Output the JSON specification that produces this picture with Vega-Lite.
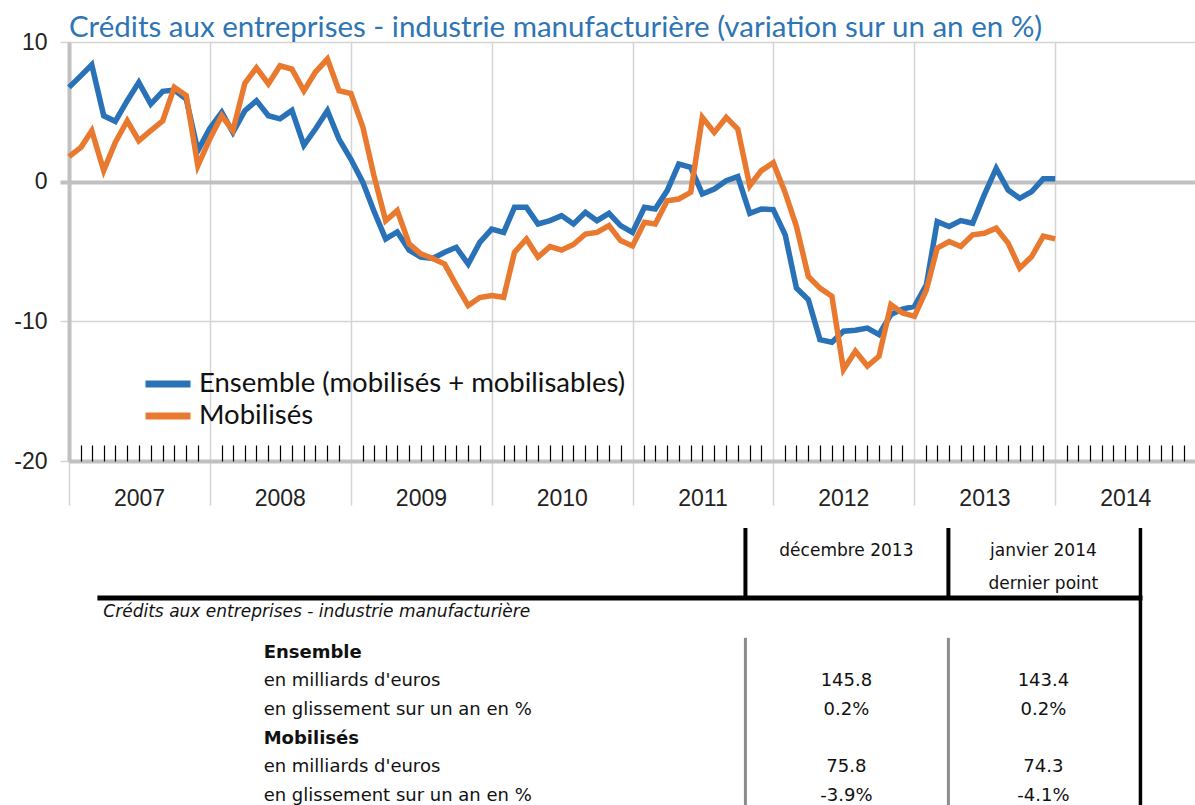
{
  "$schema": "https://vega.github.io/schema/vega-lite/v6.json",
  "autosize": {"type": "pad"},
  "padding": {"left": 13, "top": 12, "right": 0, "bottom": 0},
  "background": "white",
  "config": {"view": {"stroke": null}},
  "spacing": 16,
  "vconcat": [
    {
      "width": 1127,
      "height": 419,
      "title": {
        "text": "Crédits aux entreprises - industrie manufacturière (variation sur un an en %)",
        "anchor": "start",
        "frame": "group",
        "font": "Lato",
        "fontSize": 29.5,
        "fontWeight": "normal",
        "color": "#2e75b6",
        "offset": -12
      },
      "data": {
        "values": [
          {"date": "2007-01-01", "ensemble": 6.75, "mobilises": 1.79},
          {"date": "2007-02-01", "ensemble": 7.59, "mobilises": 2.46},
          {"date": "2007-03-01", "ensemble": 8.37, "mobilises": 3.65},
          {"date": "2007-04-01", "ensemble": 4.72, "mobilises": 0.79},
          {"date": "2007-05-01", "ensemble": 4.32, "mobilises": 2.81},
          {"date": "2007-06-01", "ensemble": 5.8, "mobilises": 4.36},
          {"date": "2007-07-01", "ensemble": 7.11, "mobilises": 2.93},
          {"date": "2007-08-01", "ensemble": 5.56, "mobilises": 3.65},
          {"date": "2007-09-01", "ensemble": 6.47, "mobilises": 4.36},
          {"date": "2007-10-01", "ensemble": 6.56, "mobilises": 6.75},
          {"date": "2007-11-01", "ensemble": 5.92, "mobilises": 6.16},
          {"date": "2007-12-01", "ensemble": 2.22, "mobilises": 1.14},
          {"date": "2008-01-01", "ensemble": 3.8, "mobilises": 3.06},
          {"date": "2008-02-01", "ensemble": 4.96, "mobilises": 4.72},
          {"date": "2008-03-01", "ensemble": 3.53, "mobilises": 3.65},
          {"date": "2008-04-01", "ensemble": 5.08, "mobilises": 7.05},
          {"date": "2008-05-01", "ensemble": 5.8, "mobilises": 8.15},
          {"date": "2008-06-01", "ensemble": 4.72, "mobilises": 7.0},
          {"date": "2008-07-01", "ensemble": 4.5, "mobilises": 8.3},
          {"date": "2008-08-01", "ensemble": 5.1, "mobilises": 8.06},
          {"date": "2008-09-01", "ensemble": 2.6, "mobilises": 6.5},
          {"date": "2008-10-01", "ensemble": 3.77, "mobilises": 7.85},
          {"date": "2008-11-01", "ensemble": 5.08, "mobilises": 8.78},
          {"date": "2008-12-01", "ensemble": 3.05, "mobilises": 6.51},
          {"date": "2009-01-01", "ensemble": 1.6, "mobilises": 6.3},
          {"date": "2009-02-01", "ensemble": -0.05, "mobilises": 3.9},
          {"date": "2009-03-01", "ensemble": -2.07, "mobilises": 0.5},
          {"date": "2009-04-01", "ensemble": -4.1, "mobilises": -2.8},
          {"date": "2009-05-01", "ensemble": -3.6, "mobilises": -2.07},
          {"date": "2009-06-01", "ensemble": -4.9, "mobilises": -4.46},
          {"date": "2009-07-01", "ensemble": -5.4, "mobilises": -5.17},
          {"date": "2009-08-01", "ensemble": -5.5, "mobilises": -5.5},
          {"date": "2009-09-01", "ensemble": -5.06, "mobilises": -5.9},
          {"date": "2009-10-01", "ensemble": -4.7, "mobilises": -7.4},
          {"date": "2009-11-01", "ensemble": -5.9, "mobilises": -8.87},
          {"date": "2009-12-01", "ensemble": -4.35, "mobilises": -8.3},
          {"date": "2010-01-01", "ensemble": -3.4, "mobilises": -8.16},
          {"date": "2010-02-01", "ensemble": -3.63, "mobilises": -8.28},
          {"date": "2010-03-01", "ensemble": -1.84, "mobilises": -5.06},
          {"date": "2010-04-01", "ensemble": -1.84, "mobilises": -4.1},
          {"date": "2010-05-01", "ensemble": -3.03, "mobilises": -5.4},
          {"date": "2010-06-01", "ensemble": -2.79, "mobilises": -4.65},
          {"date": "2010-07-01", "ensemble": -2.43, "mobilises": -4.89},
          {"date": "2010-08-01", "ensemble": -3.03, "mobilises": -4.5},
          {"date": "2010-09-01", "ensemble": -2.2, "mobilises": -3.75},
          {"date": "2010-10-01", "ensemble": -2.79, "mobilises": -3.63},
          {"date": "2010-11-01", "ensemble": -2.27, "mobilises": -3.15},
          {"date": "2010-12-01", "ensemble": -3.15, "mobilises": -4.22},
          {"date": "2011-01-01", "ensemble": -3.63, "mobilises": -4.6},
          {"date": "2011-02-01", "ensemble": -1.84, "mobilises": -2.91},
          {"date": "2011-03-01", "ensemble": -1.96, "mobilises": -3.03},
          {"date": "2011-04-01", "ensemble": -0.64, "mobilises": -1.36},
          {"date": "2011-05-01", "ensemble": 1.26, "mobilises": -1.24},
          {"date": "2011-06-01", "ensemble": 1.03, "mobilises": -0.76},
          {"date": "2011-07-01", "ensemble": -0.88, "mobilises": 4.6},
          {"date": "2011-08-01", "ensemble": -0.53, "mobilises": 3.53},
          {"date": "2011-09-01", "ensemble": 0.07, "mobilises": 4.6},
          {"date": "2011-10-01", "ensemble": 0.36, "mobilises": 3.77},
          {"date": "2011-11-01", "ensemble": -2.27, "mobilises": -0.29},
          {"date": "2011-12-01", "ensemble": -1.96, "mobilises": 0.79},
          {"date": "2012-01-01", "ensemble": -2.0, "mobilises": 1.36},
          {"date": "2012-02-01", "ensemble": -3.81, "mobilises": -0.8},
          {"date": "2012-03-01", "ensemble": -7.62, "mobilises": -3.2},
          {"date": "2012-04-01", "ensemble": -8.45, "mobilises": -6.79},
          {"date": "2012-05-01", "ensemble": -11.31, "mobilises": -7.62},
          {"date": "2012-06-01", "ensemble": -11.5, "mobilises": -8.21},
          {"date": "2012-07-01", "ensemble": -10.71, "mobilises": -13.45},
          {"date": "2012-08-01", "ensemble": -10.64, "mobilises": -12.14},
          {"date": "2012-09-01", "ensemble": -10.48, "mobilises": -13.2},
          {"date": "2012-10-01", "ensemble": -10.95, "mobilises": -12.5},
          {"date": "2012-11-01", "ensemble": -9.52, "mobilises": -8.81},
          {"date": "2012-12-01", "ensemble": -9.12, "mobilises": -9.4},
          {"date": "2013-01-01", "ensemble": -8.93, "mobilises": -9.64},
          {"date": "2013-02-01", "ensemble": -7.38, "mobilises": -7.74},
          {"date": "2013-03-01", "ensemble": -2.86, "mobilises": -4.76},
          {"date": "2013-04-01", "ensemble": -3.21, "mobilises": -4.29},
          {"date": "2013-05-01", "ensemble": -2.79, "mobilises": -4.64},
          {"date": "2013-06-01", "ensemble": -2.98, "mobilises": -3.81},
          {"date": "2013-07-01", "ensemble": -0.95, "mobilises": -3.69},
          {"date": "2013-08-01", "ensemble": 0.95, "mobilises": -3.33},
          {"date": "2013-09-01", "ensemble": -0.6, "mobilises": -4.4},
          {"date": "2013-10-01", "ensemble": -1.19, "mobilises": -6.19},
          {"date": "2013-11-01", "ensemble": -0.71, "mobilises": -5.36},
          {"date": "2013-12-01", "ensemble": 0.2, "mobilises": -3.9},
          {"date": "2014-01-01", "ensemble": 0.2, "mobilises": -4.1}
        ]
      },
      "transform": [{"fold": ["ensemble", "mobilises"], "as": ["serie", "valeur"]}],
      "layer": [
        {
          "mark": {"type": "line", "strokeWidth": 5.5},
          "encoding": {
            "x": {
              "field": "date",
              "type": "temporal",
              "scale": {
                "type": "utc",
                "domain": [
                  {"year": 2007, "month": 1, "date": 1, "utc": true},
                  {"year": 2015, "month": 1, "date": 1, "utc": true}
                ]
              },
              "axis": {
                "orient": "bottom",
                "title": null,
                "values": [
                  {"year": 2007, "month": 1, "date": 1, "utc": true},
                  {"year": 2008, "month": 1, "date": 1, "utc": true},
                  {"year": 2009, "month": 1, "date": 1, "utc": true},
                  {"year": 2010, "month": 1, "date": 1, "utc": true},
                  {"year": 2011, "month": 1, "date": 1, "utc": true},
                  {"year": 2012, "month": 1, "date": 1, "utc": true},
                  {"year": 2013, "month": 1, "date": 1, "utc": true},
                  {"year": 2014, "month": 1, "date": 1, "utc": true}
                ],
                "labelExpr": "utcFormat(datum.value, '%Y')",
                "grid": true,
                "gridColor": "#d4d4d4",
                "gridWidth": 1.5,
                "tickSize": 44,
                "tickColor": "#d4d4d4",
                "tickWidth": 1.5,
                "domain": true,
                "domainColor": "#c0c0c0",
                "domainWidth": 4,
                "labelOffset": 70,
                "labelPadding": -18,
                "labelFont": "Liberation Sans",
                "labelFontSize": 23,
                "labelColor": "#222222",
                "labelFlush": false,
                "labelOverlap": false
              }
            },
            "y": {
              "field": "valeur",
              "type": "quantitative",
              "scale": {"domain": [-20, 10], "nice": false, "zero": false},
              "axis": {
                "title": null,
                "values": [-20, -10, 0, 10],
                "labelExpr": "toString(datum.value)",
                "grid": true,
                "gridColor": {"condition": {"test": "datum.value === 0", "value": "#c0c0c0"}, "value": "#d4d4d4"},
                "gridWidth": {"condition": {"test": "datum.value === 0", "value": 4}, "value": 1.5},
                "domain": true,
                "domainColor": "#c0c0c0",
                "domainWidth": 4,
                "tickSize": 9,
                "tickColor": {"condition": {"test": "datum.value === 0", "value": "#c0c0c0"}, "value": "#d4d4d4"},
                "tickWidth": {"condition": {"test": "datum.value === 0", "value": 4}, "value": 1.5},
                "labelPadding": 13,
                "labelFont": "Liberation Sans",
                "labelFontSize": 23,
                "labelColor": "#222222"
              }
            },
            "color": {
              "field": "serie",
              "type": "nominal",
              "scale": {"domain": ["ensemble", "mobilises"], "range": ["#2a72b8", "#e8792f"]},
              "legend": {
                "orient": "none",
                "legendX": 84,
                "legendY": 327,
                "title": null,
                "symbolType": "M-2,0H2",
                "symbolStrokeWidth": 7,
                "symbolSize": 506,
                "labelOffset": 16,
                "labelFont": "Lato",
                "labelFontSize": 27.5,
                "labelColor": "#111111",
                "labelLimit": 0,
                "rowPadding": 3,
                "labelExpr": "datum.value == 'ensemble' ? 'Ensemble (mobilisés + mobilisables)' : 'Mobilisés'"
              }
            }
          }
        },
        {
          "mark": {"type": "point", "opacity": 0},
          "encoding": {
            "x": {
              "field": "date",
              "type": "temporal",
              "axis": {
                "orient": "bottom",
                "title": null,
                "tickCount": {"interval": "month", "step": 1},
                "labels": false,
                "domain": false,
                "grid": false,
                "ticks": true,
                "tickSize": -16,
                "tickColor": "#000000",
                "tickWidth": 1.2,
                "tickOpacity": {"condition": {"test": "utcmonth(datum.value) === 0", "value": 0}, "value": 1}
              }
            },
            "y": {"field": "valeur", "type": "quantitative"}
          }
        }
      ],
      "resolve": {"axis": {"x": "independent"}}
    },
    {
      "width": 1127,
      "height": 280,
      "data": {
        "values": [
          {"rang": 3, "niveau": "rubrique", "libelle": "Ensemble"},
          {"rang": 4, "niveau": "détail", "libelle": "en milliards d'euros", "decembre_2013": "145.8", "janvier_2014": "143.4"},
          {"rang": 5, "niveau": "détail", "libelle": "en glissement sur un an en %", "decembre_2013": "0.2%", "janvier_2014": "0.2%"},
          {"rang": 6, "niveau": "rubrique", "libelle": "Mobilisés"},
          {"rang": 7, "niveau": "détail", "libelle": "en milliards d'euros", "decembre_2013": "75.8", "janvier_2014": "74.3"},
          {"rang": 8, "niveau": "détail", "libelle": "en glissement sur un an en %", "decembre_2013": "-3.9%", "janvier_2014": "-4.1%"}
        ]
      },
      "layer": [
        {
          "data": {"values": [{}]},
          "mark": {"type": "rule", "color": "#000000", "strokeWidth": 4},
          "encoding": {
            "x": {"datum": 60.02, "type": "quantitative", "scale": {"domain": [0, 100], "nice": false, "zero": false}, "axis": null},
            "y": {"datum": -1.34, "type": "quantitative", "scale": {"domain": [-1.41, 8.35], "nice": false, "zero": false, "reverse": true}, "axis": null},
            "y2": {"datum": 1.1}
          }
        },
        {
          "data": {"values": [{}]},
          "mark": {"type": "rule", "color": "#000000", "strokeWidth": 4},
          "encoding": {
            "x": {"datum": 78.03, "type": "quantitative", "scale": {"domain": [0, 100], "nice": false, "zero": false}, "axis": null},
            "y": {"datum": -1.34, "type": "quantitative", "scale": {"domain": [-1.41, 8.35], "nice": false, "zero": false, "reverse": true}, "axis": null},
            "y2": {"datum": 1.1}
          }
        },
        {
          "data": {"values": [{}]},
          "mark": {"type": "rule", "color": "#000000", "strokeWidth": 3.5},
          "encoding": {
            "x": {"datum": 95.07, "type": "quantitative", "scale": {"domain": [0, 100], "nice": false, "zero": false}, "axis": null},
            "y": {"datum": -1.34, "type": "quantitative", "scale": {"domain": [-1.41, 8.35], "nice": false, "zero": false, "reverse": true}, "axis": null},
            "y2": {"datum": 8.35}
          }
        },
        {
          "data": {"values": [{}]},
          "mark": {"type": "rule", "color": "#000000", "strokeWidth": 5},
          "encoding": {
            "x": {"datum": 2.52, "type": "quantitative", "scale": {"domain": [0, 100], "nice": false, "zero": false}, "axis": null},
            "x2": {"datum": 95.25},
            "y": {"datum": 1.1, "type": "quantitative", "scale": {"domain": [-1.41, 8.35], "nice": false, "zero": false, "reverse": true}, "axis": null}
          }
        },
        {
          "data": {"values": [{}]},
          "mark": {"type": "rule", "color": "#8c8c8c", "strokeWidth": 3},
          "encoding": {
            "x": {"datum": 60.02, "type": "quantitative", "scale": {"domain": [0, 100], "nice": false, "zero": false}, "axis": null},
            "y": {"datum": 2.49, "type": "quantitative", "scale": {"domain": [-1.41, 8.35], "nice": false, "zero": false, "reverse": true}, "axis": null},
            "y2": {"datum": 8.35}
          }
        },
        {
          "data": {"values": [{}]},
          "mark": {"type": "rule", "color": "#8c8c8c", "strokeWidth": 3},
          "encoding": {
            "x": {"datum": 78.03, "type": "quantitative", "scale": {"domain": [0, 100], "nice": false, "zero": false}, "axis": null},
            "y": {"datum": 2.49, "type": "quantitative", "scale": {"domain": [-1.41, 8.35], "nice": false, "zero": false, "reverse": true}, "axis": null},
            "y2": {"datum": 8.35}
          }
        },
        {
          "data": {"values": [{}]},
          "mark": {"type": "text", "text": "décembre 2013", "font": "DejaVu Sans", "fontSize": 17, "color": "#111111", "align": "center", "baseline": "middle"},
          "encoding": {
            "x": {"datum": 68.98, "type": "quantitative", "scale": {"domain": [0, 100], "nice": false, "zero": false}, "axis": null},
            "y": {"datum": -0.54, "type": "quantitative", "scale": {"domain": [-1.41, 8.35], "nice": false, "zero": false, "reverse": true}, "axis": null}
          }
        },
        {
          "data": {"values": [{}]},
          "mark": {"type": "text", "text": "janvier 2014", "font": "DejaVu Sans", "fontSize": 17, "color": "#111111", "align": "center", "baseline": "middle"},
          "encoding": {
            "x": {"datum": 86.46, "type": "quantitative", "scale": {"domain": [0, 100], "nice": false, "zero": false}, "axis": null},
            "y": {"datum": -0.54, "type": "quantitative", "scale": {"domain": [-1.41, 8.35], "nice": false, "zero": false, "reverse": true}, "axis": null}
          }
        },
        {
          "data": {"values": [{}]},
          "mark": {"type": "text", "text": "dernier point", "font": "DejaVu Sans", "fontSize": 17, "color": "#111111", "align": "center", "baseline": "middle"},
          "encoding": {
            "x": {"datum": 86.46, "type": "quantitative", "scale": {"domain": [0, 100], "nice": false, "zero": false}, "axis": null},
            "y": {"datum": 0.61, "type": "quantitative", "scale": {"domain": [-1.41, 8.35], "nice": false, "zero": false, "reverse": true}, "axis": null}
          }
        },
        {
          "data": {"values": [{}]},
          "mark": {"type": "text", "text": "Crédits aux entreprises - industrie manufacturière", "font": "DejaVu Sans", "fontSize": 17, "fontStyle": "italic", "color": "#111111", "align": "left", "baseline": "middle"},
          "encoding": {
            "x": {"datum": 3.05, "type": "quantitative", "scale": {"domain": [0, 100], "nice": false, "zero": false}, "axis": null},
            "y": {"datum": 1.59, "type": "quantitative", "scale": {"domain": [-1.41, 8.35], "nice": false, "zero": false, "reverse": true}, "axis": null}
          }
        },
        {
          "transform": [{"filter": "datum.niveau === 'rubrique'"}],
          "mark": {"type": "text", "font": "DejaVu Sans", "fontSize": 18, "fontWeight": "bold", "color": "#111111", "align": "left", "baseline": "middle"},
          "encoding": {
            "x": {"datum": 17.27, "type": "quantitative", "scale": {"domain": [0, 100], "nice": false, "zero": false}, "axis": null},
            "y": {"field": "rang", "type": "quantitative", "scale": {"domain": [-1.41, 8.35], "nice": false, "zero": false, "reverse": true}, "axis": null},
            "text": {"field": "libelle"}
          }
        },
        {
          "transform": [{"filter": "datum.niveau === 'détail'"}],
          "mark": {"type": "text", "font": "DejaVu Sans", "fontSize": 18, "color": "#111111", "align": "left", "baseline": "middle"},
          "encoding": {
            "x": {"datum": 17.27, "type": "quantitative", "scale": {"domain": [0, 100], "nice": false, "zero": false}, "axis": null},
            "y": {"field": "rang", "type": "quantitative", "scale": {"domain": [-1.41, 8.35], "nice": false, "zero": false, "reverse": true}, "axis": null},
            "text": {"field": "libelle"}
          }
        },
        {
          "transform": [{"filter": "datum.niveau === 'détail'"}],
          "mark": {"type": "text", "font": "DejaVu Sans", "fontSize": 18, "color": "#111111", "align": "center", "baseline": "middle"},
          "encoding": {
            "x": {"datum": 68.98, "type": "quantitative", "scale": {"domain": [0, 100], "nice": false, "zero": false}, "axis": null},
            "y": {"field": "rang", "type": "quantitative", "scale": {"domain": [-1.41, 8.35], "nice": false, "zero": false, "reverse": true}, "axis": null},
            "text": {"field": "decembre_2013"}
          }
        },
        {
          "transform": [{"filter": "datum.niveau === 'détail'"}],
          "mark": {"type": "text", "font": "DejaVu Sans", "fontSize": 18, "color": "#111111", "align": "center", "baseline": "middle"},
          "encoding": {
            "x": {"datum": 86.46, "type": "quantitative", "scale": {"domain": [0, 100], "nice": false, "zero": false}, "axis": null},
            "y": {"field": "rang", "type": "quantitative", "scale": {"domain": [-1.41, 8.35], "nice": false, "zero": false, "reverse": true}, "axis": null},
            "text": {"field": "janvier_2014"}
          }
        }
      ]
    }
  ]
}
